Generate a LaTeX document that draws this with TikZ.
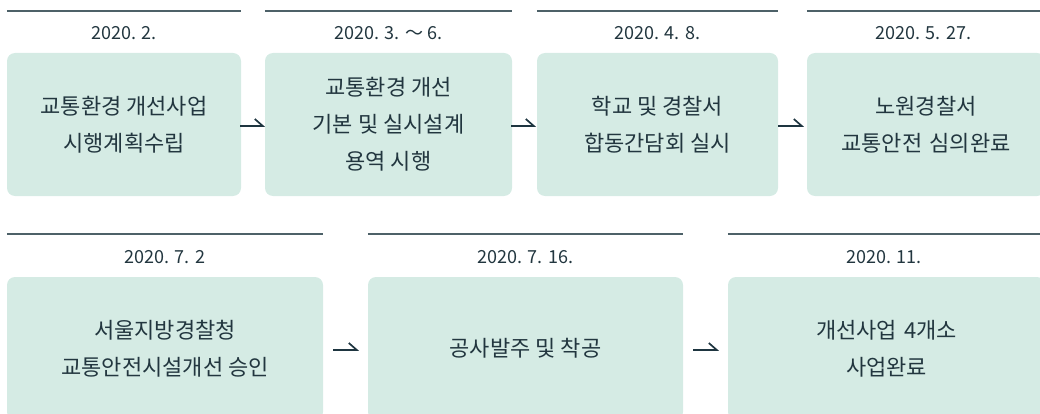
\documentclass[tikz,border=0pt]{standalone}
\usepackage{fontspec}
\newfontfamily\kr{Noto Sans CJK KR}
\definecolor{boxfill}{HTML}{D5EBE4}
\definecolor{txt}{HTML}{22363F}
\definecolor{rule}{HTML}{4D6168}
\definecolor{arr}{HTML}{1E3540}
\begin{document}
\begin{tikzpicture}[x=1pt,y=-1pt,
  stepbox/.style={rectangle,rounded corners=8pt,fill=boxfill,inner sep=0pt,
    align=center,text=txt,font=\kr\fontsize{22}{37}\selectfont,minimum height=143pt},
  datelabel/.style={text=txt,font=\kr\fontsize{18}{20}\selectfont,inner sep=0pt,anchor=center},
  topline/.style={draw=rule,line width=1.8pt},
  harp/.style={draw=arr,line width=1.7pt,line cap=butt,line join=miter}]
\useasboundingbox (0,0) rectangle (1040,414);
\clip (0,0) rectangle (1040,414);
% top row
\node[stepbox,minimum width=234pt] (b1) at (124,124.5) {교통환경 개선사업\\시행계획수립};
\node[stepbox,minimum width=247pt] (b2) at (388.5,124.5) {교통환경 개선\\기본 및 실시설계\\용역 시행};
\node[stepbox,minimum width=241pt] (b3) at (657.5,124.5) {학교 및 경찰서\\합동간담회 실시};
\node[stepbox,minimum width=238pt,text width=233pt] (b4) at (926,124.5) {노원경찰서\\교통안전 심의완료};
% bottom row
\node[stepbox,minimum width=316pt] (c1) at (165,348.5) {서울지방경찰청\\교통안전시설개선 승인};
\node[stepbox,minimum width=315pt] (c2) at (525.5,348.5) {공사발주 및 착공};
\node[stepbox,minimum width=317pt,text width=312pt] (c3) at (886.5,348.5) {개선사업 4개소\\사업완료};
% dates
\node[datelabel] (d1) at ([yshift=20pt]b1.north) {2020. 2.};
\node[datelabel] (d2) at ([yshift=20pt]b2.north) {2020. 3. ～ 6.};
\node[datelabel] (d3) at ([yshift=20pt]b3.north) {2020. 4. 8.};
\node[datelabel] (d4) at ([xshift=-2.5pt,yshift=20pt]b4.north) {2020. 5. 27.};
\node[datelabel] (e1) at ([yshift=20pt]c1.north) {2020. 7. 2};
\node[datelabel] (e2) at ([yshift=20pt]c2.north) {2020. 7. 16.};
\node[datelabel] (e3) at ([xshift=-2.5pt,yshift=20pt]c3.north) {2020. 11.};
% rules above
\foreach \n/\s in {b1/42,b2/42,b3/42,b4/42,c1/43,c2/43,c3/43}{
  \draw[topline] ([yshift=\s pt]\n.north west) -- ([yshift=\s pt]\n.north east);
}
% arrows
\draw[harp] ([xshift=-1pt,yshift=-1.5pt]b1.east) -- ([xshift=-2pt,yshift=-1.5pt]b2.west) -- ++(-8,-7);
\draw[harp] ([xshift=-1pt,yshift=-1.5pt]b2.east) -- ([xshift=-3pt,yshift=-1.5pt]b3.west) -- ++(-8,-7);
\draw[harp] ([yshift=-1.5pt]b3.east) -- ([xshift=-5pt,yshift=-1.5pt]b4.west) -- ++(-8,-7);
\draw[harp] ([xshift=10pt,yshift=-1.5pt]c1.east) -- ([xshift=-11pt,yshift=-1.5pt]c2.west) -- ++(-8,-7);
\draw[harp] ([xshift=10pt,yshift=-1.5pt]c2.east) -- ([xshift=-11pt,yshift=-1.5pt]c3.west) -- ++(-8,-7);
\end{tikzpicture}
\end{document}
